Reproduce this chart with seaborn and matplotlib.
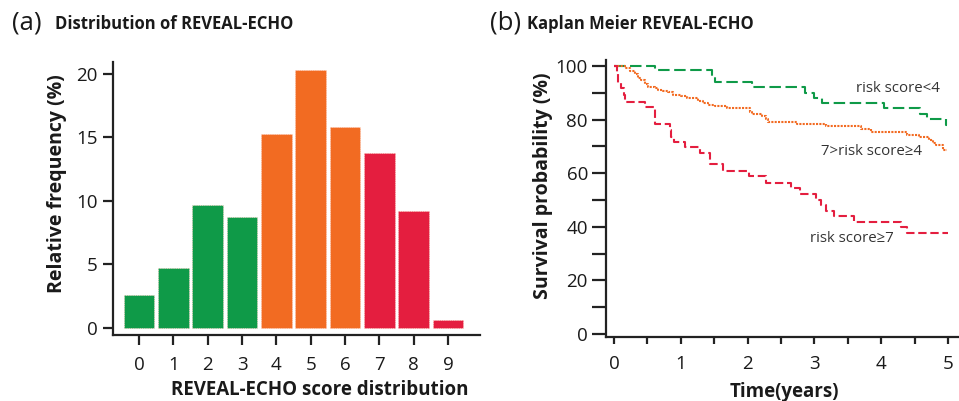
import matplotlib
matplotlib.use("Agg")
import matplotlib.pyplot as plt
from matplotlib.ticker import MultipleLocator
import seaborn as sns
import pandas as pd

# ---- data: panel (a)
scores = ["0", "1", "2", "3", "4", "5", "6", "7", "8", "9"]
rel_freq = [2.6, 4.7, 9.7, 8.7, 15.3, 20.3, 15.8, 13.8, 9.2, 0.6]
bar_groups = ["low", "low", "low", "low", "mid", "mid", "mid", "high", "high", "high"]

# ---- data: panel (b) Kaplan-Meier step points
green_t = [0, 0.61, 1.47, 1.51, 2.06, 2.86, 2.99, 3.11, 4.04, 4.58, 4.69, 4.97, 4.99]
green_s = [100, 98.3, 96.0, 93.9, 92.0, 89.8, 87.9, 86.1, 84.2, 82.0, 80.2, 78.0, 78.0]

orange_t = [0, 0.16, 0.24, 0.31, 0.36, 0.41, 0.46, 0.51, 0.61, 0.66, 0.74, 0.81, 0.89,
            1.01, 1.09, 1.26, 1.33, 1.41, 1.51, 1.69, 2.04, 2.06, 2.22, 2.27, 2.30,
            2.74, 3.17, 3.70, 3.85, 4.38, 4.57, 4.72, 4.77, 4.82, 4.92, 4.99]
orange_s = [100, 99.1, 98.1, 96.9, 95.6, 94.8, 93.2, 92.3, 91.9, 91.0, 90.7, 90.2, 89.2,
            88.6, 87.9, 86.9, 86.1, 85.4, 85.2, 84.2, 82.9, 82.2, 81.3, 80.2, 79.2,
            78.2, 77.4, 76.5, 75.5, 74.3, 73.6, 72.4, 71.2, 70.5, 68.7, 68.7]

red_t = [0, 0.04, 0.065, 0.10, 0.15, 0.17, 0.46, 0.61, 0.84, 0.86, 0.90, 1.06, 1.29,
         1.43, 1.63, 2.02, 2.27, 2.65, 2.79, 3.03, 3.10, 3.17, 3.30, 3.60, 4.30, 4.38, 5.0]
red_s = [100, 97.9, 93.5, 91.7, 89.2, 86.7, 84.6, 78.4, 76.1, 73.6, 71.6, 69.9, 67.4,
         63.3, 60.9, 59.0, 56.5, 54.3, 52.3, 50.0, 48.1, 46.0, 44.0, 41.6, 39.8, 37.6, 37.6]

labels_b = ["risk score<4", "7>risk score\u22654", "risk score\u22657"]
label_t = [3.62, 3.10, 2.93]
label_s = [91.7, 68.0, 35.7]

GREEN = "#0f9a48"
ORANGE = "#f26b22"
RED = "#e41e3f"
group_colors = {"low": GREEN, "mid": ORANGE, "high": RED}

sns.set_theme(style="ticks")
plt.rcParams["font.family"] = ["Open Sans", "DejaVu Sans"]
TXT = "#1a1a1a"
plt.rcParams["text.color"] = TXT
plt.rcParams["axes.labelcolor"] = TXT
plt.rcParams["xtick.color"] = "#222222"
plt.rcParams["ytick.color"] = "#222222"
plt.rcParams["xtick.labelcolor"] = TXT
plt.rcParams["ytick.labelcolor"] = TXT

fig = plt.figure(figsize=(9.59, 4.01), dpi=100)
W, H = 959, 401

def box(x0, y0, x1, y1):
    return [x0 / W, 1 - y1 / H, (x1 - x0) / W, (y1 - y0) / H]

# ---------------- panel (a)
ax1 = fig.add_axes(box(113, 62, 480, 335))
df_a = pd.DataFrame({"score": scores, "freq": rel_freq, "grp": bar_groups})
bar_palette = [group_colors[g] for g in bar_groups]
sns.barplot(data=df_a, x="score", y="freq", hue="score", palette=bar_palette,
            legend=False, width=0.89, ax=ax1, saturation=1,
            edgecolor="#ffd0c0", linewidth=0.6, linestyle=":")
ax1.set_xlim(-0.76, 9.93)
ax1.set_ylim(-0.58, 20.95)
ax1.set_yticks([0, 5, 10, 15, 20])
sns.despine(ax=ax1)
for sp in ("left", "bottom"):
    ax1.spines[sp].set_linewidth(1.6)
    ax1.spines[sp].set_color("#222222")
ax1.tick_params(axis="y", length=7, width=1.6, labelsize=13.5, pad=4)
ax1.tick_params(axis="x", length=7, width=1.6, labelsize=13.5, pad=8)
ax1.set_xlabel("REVEAL-ECHO score distribution", fontsize=13.5, fontweight="bold")
ax1.set_ylabel("Relative frequency (%)", fontsize=14, fontweight="bold")
ax1.xaxis.label.set_va("center")
ax1.yaxis.label.set_va("center")
ax1.xaxis.set_label_coords(0.564, -0.20)
ax1.yaxis.set_label_coords(-0.153, 0.555)

# ---------------- panel (b)
ax2 = fig.add_axes(box(606, 60, 958, 336.7))
sns.lineplot(x=green_t, y=green_s, ax=ax2, color=GREEN, drawstyle="steps-post",
             linewidth=1.5, dashes=False, linestyle=(0, (5.5, 2.2)), sort=False)
sns.lineplot(x=orange_t, y=orange_s, ax=ax2, color=ORANGE, drawstyle="steps-post",
             linewidth=1.5, dashes=False, linestyle=(0, (1, 0.6)), sort=False)
sns.lineplot(x=red_t, y=red_s, ax=ax2, color=RED, drawstyle="steps-post",
             linewidth=1.5, dashes=False, linestyle=(0, (4, 1.8)), sort=False)
for txt, tx, ty in zip(labels_b, label_t, label_s):
    ax2.text(tx, ty, txt, ha="left", va="center", fontsize=10.8, color="#333333",
             family=["Open Sans", "DejaVu Sans"])
ax2.set_xlim(-0.12, 5.15)
ax2.set_ylim(-1.0, 102.2)
ax2.xaxis.set_major_locator(MultipleLocator(1))
ax2.xaxis.set_minor_locator(MultipleLocator(0.5))
ax2.yaxis.set_major_locator(MultipleLocator(20))
ax2.yaxis.set_minor_locator(MultipleLocator(10))
sns.despine(ax=ax2)
for sp in ("left", "bottom"):
    ax2.spines[sp].set_linewidth(1.6)
    ax2.spines[sp].set_color("#222222")
ax2.tick_params(axis="y", which="both", length=10, width=1.6, labelsize=13.5, pad=3)
ax2.tick_params(axis="x", which="both", length=5, width=1.6, labelsize=13.5, pad=8)
ax2.set_xlabel("Time(years)", fontsize=13.5, fontweight="bold")
ax2.set_ylabel("Survival probability (%)", fontsize=14, fontweight="bold")
ax2.xaxis.label.set_va("center")
ax2.yaxis.label.set_va("center")
ax2.xaxis.set_label_coords(0.507, -0.199)
ax2.yaxis.set_label_coords(-0.178, 0.545)

# ---------------- titles
fig.text(12 / W, 1 - 23 / H, "(a)", fontsize=18.5, va="center", ha="left", color=TXT)
fig.text(55 / W, 1 - 24 / H, "Distribution of REVEAL-ECHO", fontsize=12,
         fontweight="bold", va="center", ha="left", color=TXT)
fig.text(490 / W, 1 - 23 / H, "(b)", fontsize=18.5, va="center", ha="left", color=TXT)
fig.text(527 / W, 1 - 24 / H, "Kaplan Meier REVEAL-ECHO", fontsize=12,
         fontweight="bold", va="center", ha="left", color=TXT)

fig.savefig("out.png", dpi=100)
